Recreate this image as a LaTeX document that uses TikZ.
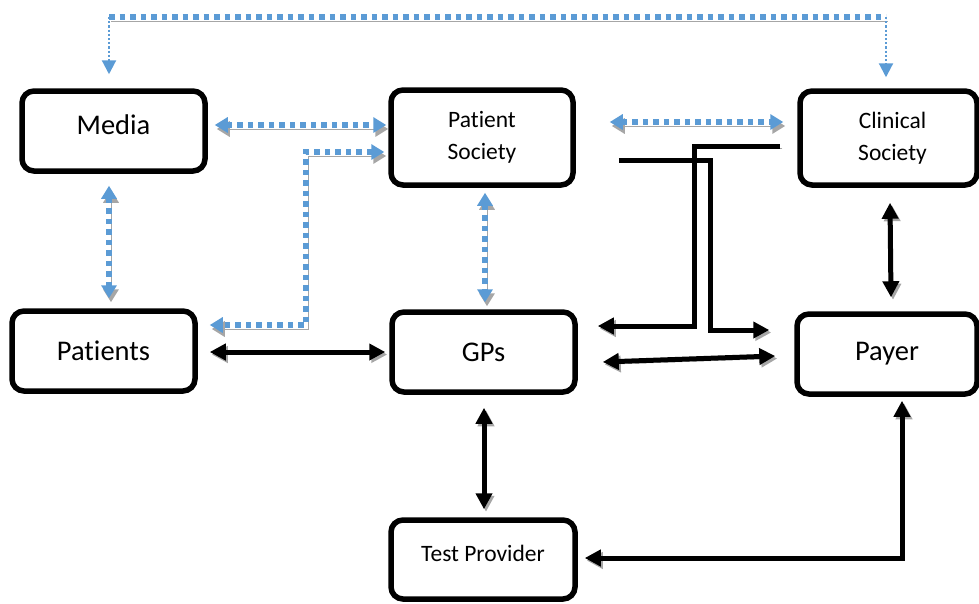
\documentclass[tikz,border=0pt]{standalone}
\usepackage{fontspec}
\setmainfont{Carlito}[Ligatures=NoCommon]
\usetikzlibrary{arrows.meta,calc}
\definecolor{offblue}{HTML}{5B9BD5}
\definecolor{shade}{HTML}{A6A6A6}
\tikzset{
  box/.style={draw=black, line width=5.5pt, rounded corners=12pt, fill=white, inner sep=0pt, align=center},
  big/.style={font=\fontsize{28.5}{34}\selectfont},
  small/.style={font=\fontsize{23.5}{32}\selectfont},
  btip/.tip={Triangle[length=16pt,width=16pt]},
  ltip/.tip={Triangle[length=13pt,width=15pt]},
  stip/.tip={Triangle[length=14pt,width=14pt]},
  blk/.style={line width=5pt, draw=black,
    preaction={draw=shade, transform canvas={shift={(2pt,-2.5pt)}}}},
  blu/.style={line width=6.5pt, draw=offblue, dash pattern=on 5.5pt off 5pt,
    preaction={draw=shade, transform canvas={shift={(2pt,-4pt)}}}},
  thinblu/.style={line width=2.2pt, draw=offblue, dash pattern=on 2.2pt off 2pt},
}
\begin{document}
\begin{tikzpicture}[x=1pt,y=-1pt]
\useasboundingbox (0,0) rectangle (979,603);
% boxes
\node[box, big, minimum width=183pt, minimum height=80pt] (media) at (113.5,131) {\raisebox{6pt}[\height][\depth]{Media}};
\node[box, small, minimum width=182pt, minimum height=95pt] (patsoc) at (482,137.5) {Patient\\Society};
\node[box, small, minimum width=177pt, minimum height=94pt] (clinsoc) at (888.5,138) {\hspace*{8pt}Clinical\\\hspace*{8pt}Society};
\node[box, big, minimum width=183pt, minimum height=80pt] (patients) at (103.5,351) {Patients};
\node[box, big, minimum width=183pt, minimum height=80pt] (gps) at (483.5,352) {GPs};
\node[box, big, minimum width=180pt, minimum height=80pt] (payer) at (887,354) {Payer};
\node[box, small, minimum width=184pt, minimum height=79pt] (test) at (483,559.5) {\raisebox{6pt}[\height][\depth]{Test Provider}};

% top dotted link Media -- Clinical Society
\coordinate (tl) at (109,17);
\coordinate (tr) at (886,17);
\draw[blu] (tl) -- (tr);
\draw[thinblu, -{stip}] (tl) -- ($(media.north)+(-4.5,-14)$);
\draw[thinblu, -{stip}] (tr) -- ($(clinsoc.north)+(-2.5,-11)$);

% blue dotted links
\draw[blu, {ltip}-{ltip}] ($(media.east)+(7,-6)$) -- ($(patsoc.west)+(-2,-12.5)$);
\coordinate (pb) at (306,152);
\draw[blu, {ltip}-{ltip}] ($(patsoc.west)+(-4,14.5)$) -- (pb) |- ($(patients.east)+(12,-26)$);
\draw[blu, {ltip}-{ltip}] ($(media.south)+(-4.5,12)$) -- ($(patients.north)+(5.5,-10)$);
\draw[blu, {ltip}-{ltip}] ($(patsoc.south)+(3,5)$) -- ($(gps.north)+(1.5,-7)$);
\draw[blu, {ltip}-{ltip}] ($(patsoc.east)+(34,-15.5)$) -- ($(clinsoc.west)+(-14,-16)$);

% black links
\draw[blk, {btip}-{btip}] ($(patients.east)+(12,1)$) -- ($(gps.west)+(-4,0)$);
\coordinate (c1) at (694,146);
\draw[blk, -{btip}] ($(clinsoc.west)+(-17,8)$) -- (c1) |- ($(gps.east)+(20,-26)$);
\coordinate (c2) at (710,160);
\draw[blk, -{btip}] ($(patsoc.east)+(43,22.5)$) -- (c2) |- ($(payer.west)+(-25,-24)$);
\draw[blk, {btip}-{btip}] ($(gps.east)+(25,10)$) -- ($(payer.west)+(-19,2)$);
\draw[blk, {btip}-{btip}] ($(clinsoc.south)+(1.5,15)$) -- ($(payer.north)+(4,-14)$);
\draw[blk, {btip}-{btip}] ($(gps.south)+(0.5,13)$) -- ($(test.north)+(1,-8)$);
\draw[blk, {btip}-{btip}] ($(test.east)+(7,-1.5)$) -| ($(payer.south)+(15,4)$);
\end{tikzpicture}
\end{document}
